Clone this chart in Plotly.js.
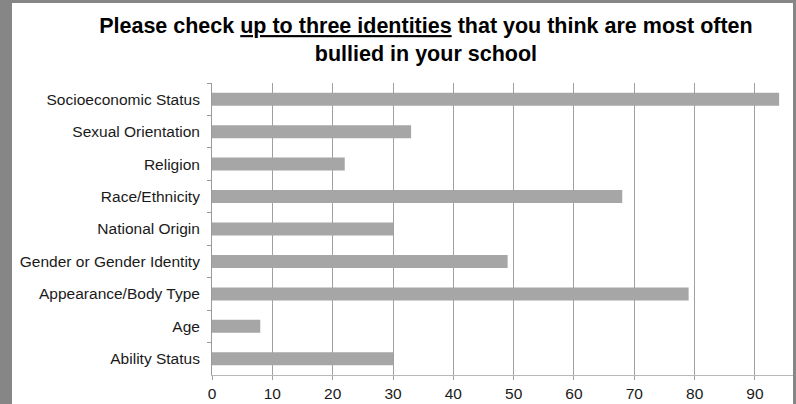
<!DOCTYPE html>
<html>
<head>
<meta charset="utf-8">
<script src="https://cdn.plot.ly/plotly-3.0.1.min.js"></script>
<style>
html,body{margin:0;padding:0;width:796px;height:404px;background:#868686;overflow:hidden;}
#chart{position:absolute;left:12px;top:3px;width:781px;height:401px;}
</style>
</head>
<body>
<div id="chart"></div>
<script>
const categories = ["Socioeconomic Status","Sexual Orientation","Religion","Race/Ethnicity","National Origin","Gender or Gender Identity","Appearance/Body Type","Age","Ability Status"];
const values = [94,33,22,68,30,49,79,8,30];
const xTicks = [0,10,20,30,40,50,60,70,80,90];

const trace = {
  type:'bar', orientation:'h',
  y: categories, x: values,
  marker:{color:'#a6a6a6'},
  hoverinfo:'x+y'
};
const layout = {
  width:781, height:401,
  margin:{l:200,r:0,t:80,b:29},
  paper_bgcolor:'#ffffff', plot_bgcolor:'#ffffff',
  bargap:0.6,
  showlegend:false,
  font:{family:'Liberation Sans, Arial, sans-serif', size:15.5, color:'#1a1a1a'},
  title:{
    text:'<b>Please check <u>up to three identities</u> that you think are most often<br>bullied in your school</b>',
    font:{family:'Liberation Sans, Arial, sans-serif', size:21.5, color:'#000000'},
    xref:'container', yref:'container', x:0.530, y:0.925, xanchor:'center', yanchor:'middle'
  },
  xaxis:{
    range:[0,96.3], tickvals:xTicks, ticktext:xTicks.map(String),
    showgrid:true, gridcolor:'#a0a0a0', gridwidth:1,
    zeroline:false, showline:true, linecolor:'#b8b8b8', linewidth:1,
    ticks:'outside', ticklen:4, tickcolor:'#a0a0a0',
    tickfont:{size:15.5,color:'#1a1a1a'}, fixedrange:true
  },
  yaxis:{
    autorange:'reversed', type:'category',
    showline:true, linecolor:'#9a9a9a', linewidth:1,
    ticks:'outside', ticklen:4, tickcolor:'#9a9a9a', tickson:'boundaries',
    ticklabelstandoff:8,
    showgrid:false, zeroline:false,
    tickfont:{size:15.5,color:'#1a1a1a'}, fixedrange:true
  }
};
Plotly.newPlot('chart',[trace],layout,{displayModeBar:false,staticPlot:true});
</script>
</body>
</html>
